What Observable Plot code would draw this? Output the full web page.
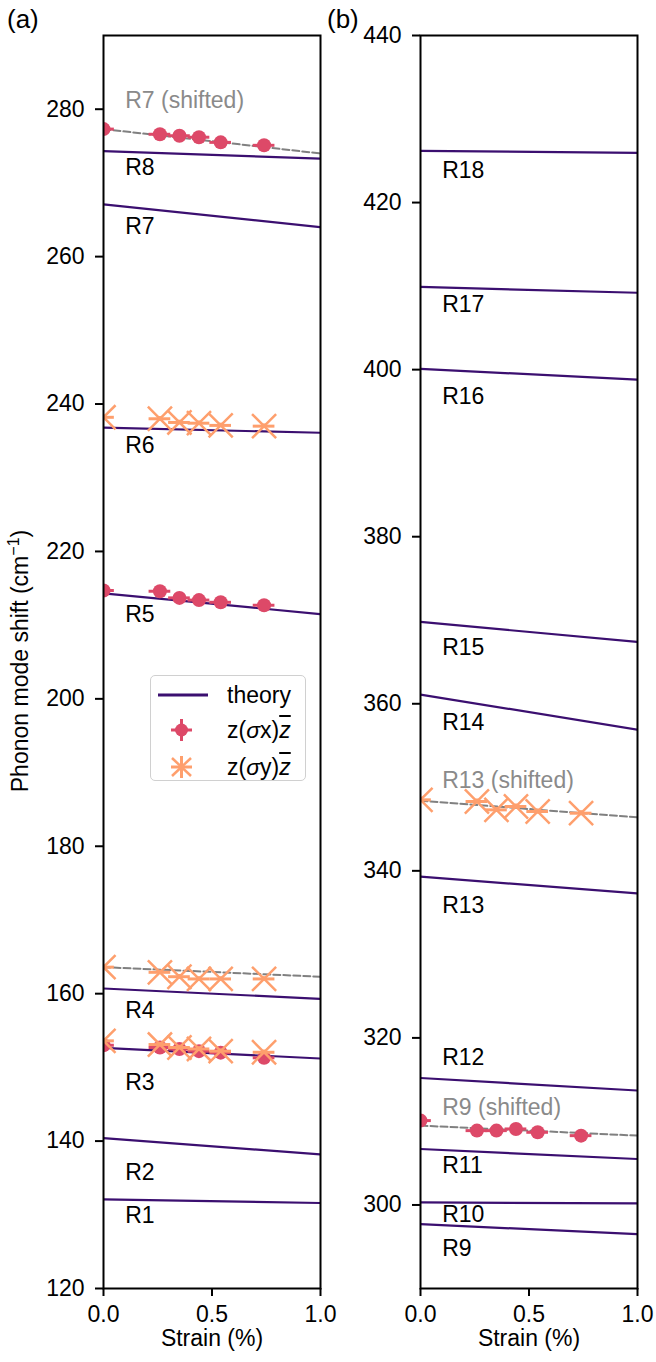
<!DOCTYPE html>
<html><head><meta charset="utf-8">
<script src="https://cdn.jsdelivr.net/npm/d3@7"></script>
<script src="https://cdn.jsdelivr.net/npm/@observablehq/plot@0.6"></script>
<style>
body{margin:0;background:#fff;font-family:"Liberation Sans",Arial,sans-serif;}
#wrap{position:relative;width:656px;height:1362px;overflow:hidden;background:#fff;}
#wrap svg.pl{position:absolute;top:0;}
.lbl{position:absolute;font-size:23px;color:#000;white-space:nowrap;line-height:1;}
#legend{position:absolute;left:150px;top:675px;width:154px;height:104px;border:1.5px solid #d0d0d0;border-radius:5px;background:rgba(255,255,255,0.85);}
.row{position:absolute;left:0;height:30px;width:154px;}
.row svg{position:absolute;left:0;top:0;}
.row .lt{position:absolute;left:76px;top:4px;font-size:23px;line-height:1;white-space:nowrap;}
.ov{text-decoration:overline;}
</style></head><body><div id="wrap"></div>
<script>
// ---------- data ----------
const strain = [0, 0.26, 0.35, 0.44, 0.54, 0.74];
const strainErr = 0.05;
const freqErr = 0.3;

// panel (a) theory
const modesA = ["R1", "R2", "R3", "R4", "R5", "R6", "R7", "R8"];
const theoryStartA = [132.1, 140.4, 152.65, 160.7, 214.3, 236.8, 267.1, 274.3];
const theoryEndA   = [131.6, 138.2, 151.2, 159.3, 211.5, 236.1, 264.0, 273.3];
const labelYA      = [129.9, 135.7, 147.9, 157.7, 211.4, 234.4, 264.1, 272.1];

// panel (b) theory
const modesB = ["R9", "R10", "R11", "R12", "R13", "R14", "R15", "R16", "R17", "R18"];
const theoryStartB = [297.7, 300.3, 306.7, 315.2, 339.3, 361.1, 369.8, 400.1, 409.9, 426.2];
const theoryEndB   = [296.5, 300.2, 305.5, 313.7, 337.3, 356.9, 367.4, 398.8, 409.2, 425.95];
const labelYB      = [294.8, 298.8, 304.7, 317.6, 335.8, 357.7, 366.7, 396.8, 407.8, 423.8];

// shifted theory (dashed)
const shiftedA = ["R7", "R4"];
const shiftedStartA = [277.3, 163.6];
const shiftedEndA   = [274.0, 162.3];
const shiftedB = ["R13", "R9"];
const shiftedStartB = [348.4, 309.5];
const shiftedEndB   = [346.4, 308.3];
const shiftedLabelsA = ["R7 (shifted)"];
const shiftedLabelYA = [281.2];
const shiftedLabelsB = ["R13 (shifted)", "R9 (shifted)"];
const shiftedLabelYB = [350.8, 311.7];

// measured z(σx)z̄
const sxR7 = [277.3, 276.6, 276.4, 276.2, 275.5, 275.1];
const sxR5 = [214.7, 214.6, 213.7, 213.4, 213.1, 212.7];
const sxR3 = [153.0, 152.7, 152.5, 152.2, 152.0, 151.3];
const sxR9 = [310.1, 308.9, 308.9, 309.1, 308.7, 308.3];
// measured z(σy)z̄
const syR6 = [238.2, 238.0, 237.5, 237.4, 237.1, 237.0];
const syR4 = [163.6, 162.9, 162.3, 162.0, 162.0, 162.0];
const syR3 = [153.6, 153.1, 152.7, 152.5, 152.2, 152.05];
const syR13 = [348.5, 348.3, 347.3, 347.7, 347.1, 346.9];

const yTicksA = [120, 140, 160, 180, 200, 220, 240, 260, 280];
const yTicksB = [300, 320, 340, 360, 380, 400, 420, 440];
const xTicks = [0, 0.5, 1];

// ---------- style ----------
const cTheory = "#3b0f70", cX = "#dd4968", cY = "#fe9f6d", cShift = "#808080";
const FONT = "Liberation Sans, Arial, sans-serif";
const FS = 23;

function segs(names, s, e) {
  const out = [];
  names.forEach((n, i) => { out.push({mode: n, x: 0, y: s[i]}); out.push({mode: n, x: 1, y: e[i]}); });
  return out;
}
function pts(series, label) {
  const out = [];
  series.forEach(vals => vals.forEach((v, i) => out.push({x: strain[i], y: v, s: label})));
  return out;
}

function panel(o) {
  const theory = segs(o.modes, o.ts, o.te);
  const shifted = segs(o.sn, o.ss, o.se);
  const labels = o.modes.map((m, i) => ({t: m, x: 0.1, y: o.ly[i]}));
  const slabels = o.sl.map((m, i) => ({t: m, x: 0.1, y: o.sly[i]}));
  const px = pts(o.sx, "x"), py = pts(o.sy, "y");
  const errMarks = (d, c) => [
    Plot.ruleY(d, {y: "y", x1: r => r.x - strainErr, x2: r => r.x + strainErr, stroke: c, strokeWidth: 3, clip: true}),
    Plot.ruleX(d, {x: "x", y1: r => r.y - freqErr, y2: r => r.y + freqErr, stroke: c, strokeWidth: 3, clip: true})
  ];
  return Plot.plot({
    width: 328, height: 1362,
    marginLeft: o.ml, marginRight: o.mr, marginTop: 35, marginBottom: 74,
    x: {domain: [0, 1]},
    y: {domain: o.domain},
    style: {fontFamily: FONT, fontSize: FS + "px", color: "black", background: "transparent", overflow: "visible"},
    marks: [
      Plot.line(theory, {x: "x", y: "y", z: "mode", stroke: cTheory, strokeWidth: 2.2, clip: true}),
      Plot.line(shifted, {x: "x", y: "y", z: "mode", stroke: cShift, strokeWidth: 2, strokeDasharray: "7,3", clip: true}),
      ...errMarks(px, cX),
      Plot.dot(px, {x: "x", y: "y", r: 7, fill: cX, stroke: "none", clip: true}),
      ...errMarks(py, cY),
      Plot.dot(py, {x: "x", y: "y", r: 11, symbol: "times", stroke: cY, strokeWidth: 2.5, clip: true}),
      Plot.text(labels, {x: "x", y: "y", text: "t", textAnchor: "start", fill: "black", fontSize: FS}),
      Plot.text(slabels, {x: "x", y: "y", text: "t", textAnchor: "start", fill: "#8a8a8a", fontSize: FS}),
      Plot.frame({stroke: "black", strokeWidth: 2}),
      Plot.axisY({ticks: o.yt, tickSize: 8, tickPadding: 11, strokeWidth: 2, label: null, tickFormat: d3.format("d"), fontSize: FS}),
      Plot.axisX({ticks: xTicks, tickSize: 8, tickPadding: 9, strokeWidth: 2, label: null, tickFormat: d3.format(".1f"), fontSize: FS}),
      Plot.text(["Strain (%)"], {frameAnchor: "bottom", dy: 57, text: d => d, fill: "black", fontSize: FS})
    ]
  });
}

const wrap = document.getElementById("wrap");
const a = panel({modes: modesA, ts: theoryStartA, te: theoryEndA, ly: labelYA,
  sn: shiftedA, ss: shiftedStartA, se: shiftedEndA, sl: shiftedLabelsA, sly: shiftedLabelYA,
  sx: [sxR7, sxR5, sxR3], sy: [syR6, syR4, syR3], domain: [120, 290], yt: yTicksA, ml: 103, mr: 8});
a.classList.add("pl"); a.style.left = "0px";
const b = panel({modes: modesB, ts: theoryStartB, te: theoryEndB, ly: labelYB,
  sn: shiftedB, ss: shiftedStartB, se: shiftedEndB, sl: shiftedLabelsB, sly: shiftedLabelYB,
  sx: [sxR9], sy: [syR13], domain: [290, 440], yt: yTicksB, ml: 92, mr: 19});
b.classList.add("pl"); b.style.left = "328px";
wrap.appendChild(a); wrap.appendChild(b);

function addLabel(html, css) {
  const d = document.createElement("div");
  d.className = "lbl"; d.innerHTML = html; Object.assign(d.style, css); wrap.appendChild(d);
  return d;
}
addLabel("(a)", {left: "7px", top: "6px", fontSize: "26px"});
addLabel("(b)", {left: "327px", top: "6px", fontSize: "26px"});
addLabel("Phonon mode shift (cm<sup style='font-size:16px;vertical-align:9px;line-height:0'>−1</sup>)",
  {left: "20px", top: "661px", transform: "translate(-50%,-50%) rotate(-90deg)"});

// legend
const leg = document.createElement("div");
leg.id = "legend";
const zbar = "<span class='ov'><i>z</i></span>";
const rows = [
  {top: 4, svg: `<line x1="7" y1="15" x2="57" y2="15" stroke="${cTheory}" stroke-width="3"/>`, text: "theory"},
  {top: 39, svg: `<line x1="20" y1="15" x2="41" y2="15" stroke="${cX}" stroke-width="3"/><line x1="30.5" y1="4" x2="30.5" y2="26" stroke="${cX}" stroke-width="3"/><circle cx="30.5" cy="15" r="6.5" fill="${cX}"/>`, text: "z(<i>σ</i>x)" + zbar},
  {top: 76, svg: `<line x1="20" y1="15" x2="41" y2="15" stroke="${cY}" stroke-width="3"/><line x1="30.5" y1="4" x2="30.5" y2="26" stroke="${cY}" stroke-width="3"/><line x1="21" y1="6" x2="40" y2="24" stroke="${cY}" stroke-width="2.5"/><line x1="21" y1="24" x2="40" y2="6" stroke="${cY}" stroke-width="2.5"/>`, text: "z(<i>σ</i>y)" + zbar}
];
rows.forEach(r => {
  const d = document.createElement("div");
  d.className = "row"; d.style.top = r.top + "px";
  d.innerHTML = `<svg width="70" height="30">${r.svg}</svg><span class="lt">${r.text}</span>`;
  leg.appendChild(d);
});
wrap.appendChild(leg);
</script>
</body></html>
